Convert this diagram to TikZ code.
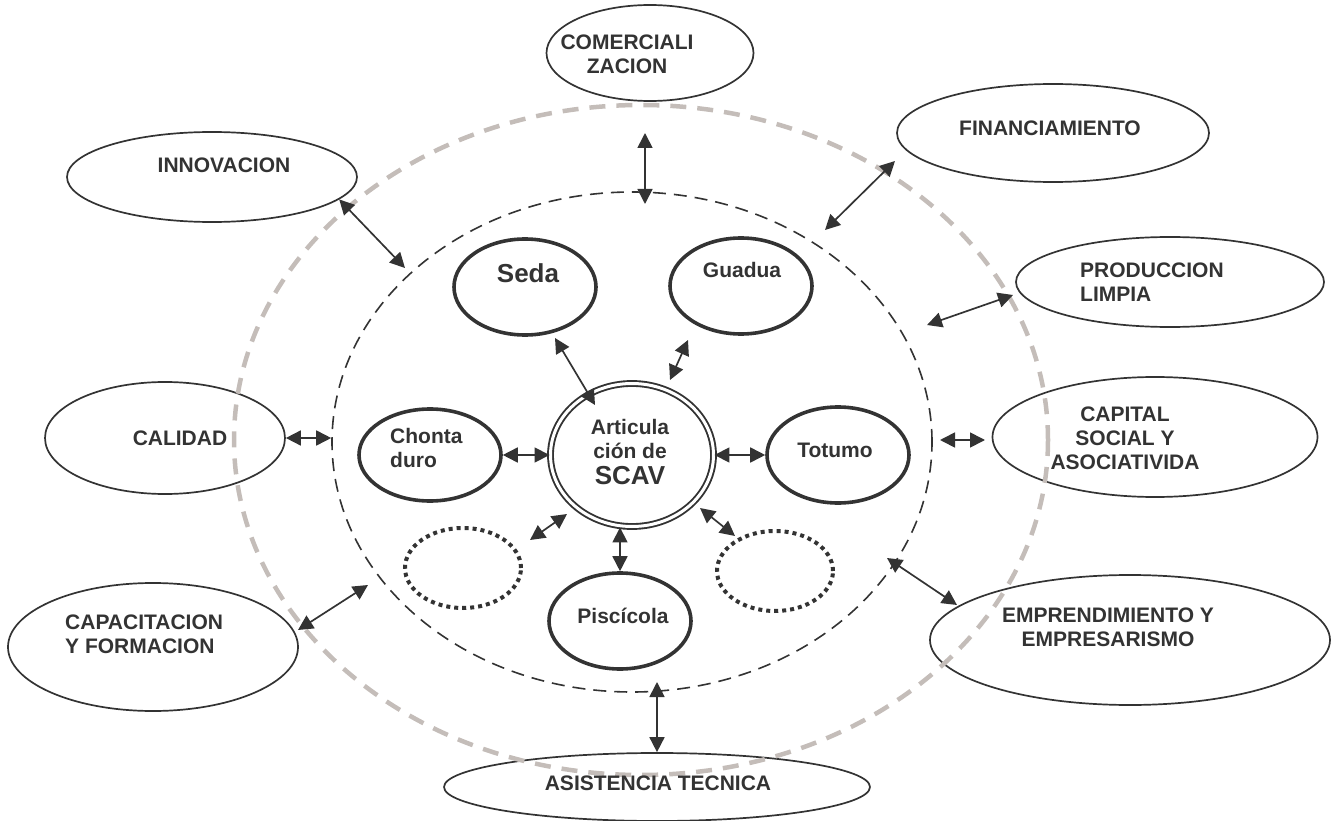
\documentclass[tikz,border=0pt]{standalone}
\usepackage{fontspec}
\setmainfont{Liberation Sans}
\usetikzlibrary{shapes.geometric,arrows.meta}
\definecolor{ink}{RGB}{51,51,51}
\definecolor{halo}{RGB}{196,189,185}

\begin{document}
\begin{tikzpicture}[
  x=1pt, y=-1pt,
  >={Triangle[length=15pt,width=15pt]},
  outer_topic/.style={ellipse, draw=ink, line width=1.7pt, inner sep=0pt},
  chain_link/.style={ellipse, draw=ink, line width=3.6pt, inner sep=0pt, minimum width=142pt, minimum height=96pt},
  empty_link/.style={ellipse, draw=ink, line width=4pt, dash pattern=on 4pt off 4pt, inner sep=0pt, minimum width=116pt, minimum height=80pt},
  core_link/.style={ellipse, draw=ink, line width=1.9pt, double=white, double distance=3pt, inner sep=0pt},
  topic_text/.style={text=ink, font=\fontsize{21}{24}\selectfont\bfseries, inner sep=0pt},
  big_text/.style={text=ink, font=\fontsize{26}{30}\selectfont\bfseries, inner sep=0pt},
  both_arrow/.style={<->, draw=ink, line width=1.7pt},
]
\useasboundingbox (0,0) rectangle (1334,821);

\draw (650,53) node (comer) [outer_topic, minimum width=207pt, minimum height=96pt] {};
\draw (1053,133) node (financ) [outer_topic, minimum width=312pt, minimum height=98pt] {};
\draw (212,177) node (innov) [outer_topic, minimum width=290pt, minimum height=90pt] {};
\draw (1170,282) node (prod) [outer_topic, minimum width=308pt, minimum height=90pt] {};
\draw (165,438) node (calidad) [outer_topic, minimum width=240pt, minimum height=112pt] {};
\draw (1155,437) node (capital) [outer_topic, minimum width=325pt, minimum height=120pt] {};
\draw (153,647) node (capac) [outer_topic, minimum width=290pt, minimum height=128pt] {};
\draw (1130,640) node (empr) [outer_topic, minimum width=400pt, minimum height=130pt] {};
\draw (657,787) node (asist) [outer_topic, minimum width=426pt, minimum height=68pt] {};

\draw (632,442) node (ring) [ellipse, draw=ink, line width=1.6pt, dash pattern=on 13pt off 8pt, minimum width=600pt, minimum height=500pt] {};

\draw (525,287) node (seda) [chain_link] {};
\draw (741,286) node (guadua) [chain_link] {};
\draw (430,455) node (chonta) [chain_link, minimum height=92pt] {};
\draw (838,455) node (totumo) [chain_link] {};
\draw (620,621) node (pisci) [chain_link] {};
\draw (632,455) node (scav) [core_link, minimum width=163pt, minimum height=143pt] {};
\draw (463,568) node (void_left) [empty_link] {};
\draw (775,571) node (void_right) [empty_link] {};

\draw [halo, line width=4.5pt, dash pattern=on 16pt off 11pt] (641,440) ellipse [x radius=407, y radius=335];

\coordinate (comer_end) at (645,133);
\coordinate (comer_ring) at (645,204);
\coordinate (financ_end) at (895,161);
\coordinate (financ_ring) at (825,230);
\coordinate (innov_ring) at (405,268);
\coordinate (prod_end) at (1013,295);
\coordinate (prod_ring) at (927,325);
\coordinate (capital_end) at (985,440);
\coordinate (capital_ring) at (940,440);
\coordinate (capac_end) at (298,630);
\coordinate (capac_ring) at (368,585);
\coordinate (empr_end) at (957,605);
\coordinate (empr_ring) at (887,558);
\coordinate (asist_ring) at (657,682);
\coordinate (seda_end) at (555,338);
\coordinate (seda_core) at (595,405);
\coordinate (guadua_end) at (688,340);
\coordinate (guadua_core) at (670,380);
\coordinate (void_left_end) at (530,540);
\coordinate (void_left_core) at (567,514);
\coordinate (void_right_core) at (700,508);
\coordinate (void_right_end) at (735,536);

\draw [both_arrow] (comer_end) -- (comer_ring);
\draw [both_arrow] (financ_end) -- (financ_ring);
\draw [both_arrow] (innov.-10) -- (innov_ring);
\draw [both_arrow] (prod_end) -- (prod_ring);
\draw [both_arrow] (calidad.east) -- (calidad.east -| ring.west);
\draw [both_arrow] (capital_ring) -- (capital_end);
\draw [both_arrow] (capac_end) -- (capac_ring);
\draw [both_arrow] (empr_ring) -- (empr_end);
\draw [both_arrow] (asist_ring) -- (asist.north);
\draw [both_arrow] (seda_end) -- (seda_core);
\draw [both_arrow] (guadua_end) -- (guadua_core);
\draw [both_arrow] (chonta.east) -- (scav.west);
\draw [both_arrow] (scav.east) -- (totumo.west);
\draw [both_arrow] (pisci.north |- scav.south) -- (pisci.north);
\draw [both_arrow] (void_left_end) -- (void_left_core);
\draw [both_arrow] (void_right_core) -- (void_right_end);

\draw (627,54) node (comer_text) [topic_text, align=center] {COMERCIALI\\ZACION};
\draw (1050,136) node (financ_text) [topic_text, anchor=base] {FINANCIAMIENTO};
\draw (224,173) node (innov_text) [topic_text, anchor=base] {INNOVACION};
\draw (1080,282) node (prod_text) [topic_text, align=left, anchor=west] {PRODUCCION\\LIMPIA};
\draw (180,445) node (calidad_text) [topic_text, anchor=base] {CALIDAD};
\draw (1125,438) node (capital_text) [topic_text, align=center] {CAPITAL\\SOCIAL Y\\ASOCIATIVIDA};
\draw (65,634) node (capac_text) [topic_text, align=left, anchor=west] {CAPACITACION\\Y FORMACION};
\draw (1108,627) node (empr_text) [topic_text, align=center] {EMPRENDIMIENTO Y\\EMPRESARISMO};
\draw (658,790) node (asist_text) [topic_text, anchor=base] {ASISTENCIA TECNICA};

\draw (528,283) node (seda_text) [big_text, anchor=base] {Seda};
\draw (742,277) node (guadua_text) [topic_text, anchor=base] {Guadua};
\draw (390,448) node (chonta_text) [topic_text, align=left, anchor=west] {Chonta\\duro};
\draw (630,452) node (scav_text) [topic_text, align=center] {Articula\\ción de\\[2pt]{\fontsize{26}{30}\selectfont SCAV}};
\draw (835,457) node (totumo_text) [topic_text, anchor=base] {Totumo};
\draw (623,623) node (pisci_text) [topic_text, anchor=base] {Piscícola};
\end{tikzpicture}
\end{document}
